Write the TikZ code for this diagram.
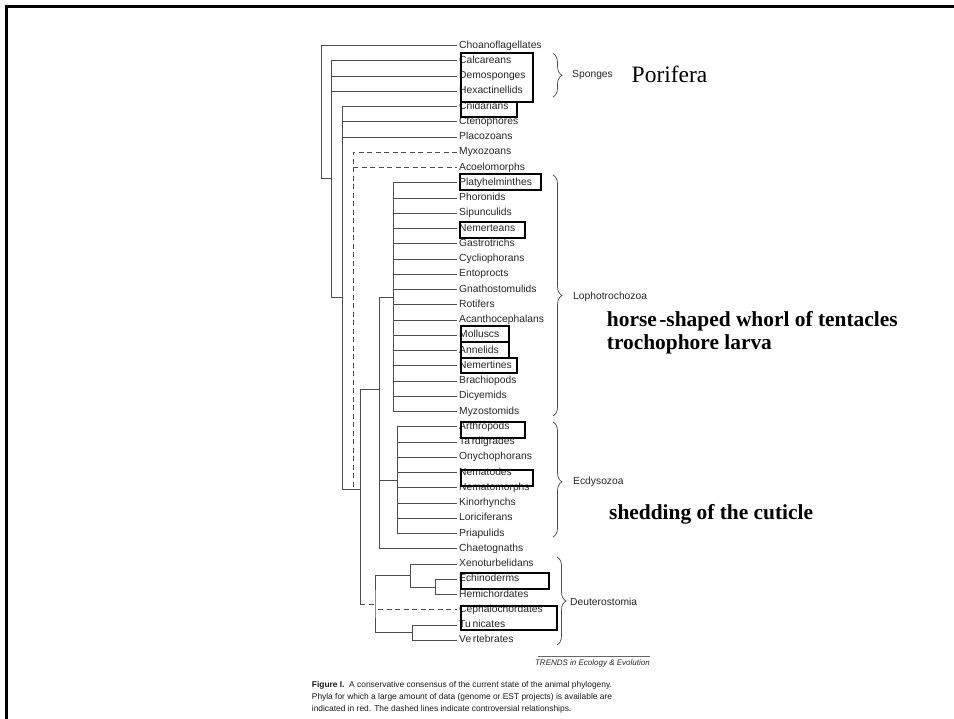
\documentclass[tikz,border=0pt]{standalone}
\usepackage{fontspec}
\setmainfont{Liberation Sans}
\newfontfamily\timesfont{Liberation Serif}
\usetikzlibrary{positioning}
\usetikzlibrary{decorations.pathreplacing}

\tikzset{
  taxon/.style={anchor=west,inner sep=2pt,text height=7.4pt,text depth=2.1pt,font=\fontsize{10.3}{12}\selectfont,text=black!85},
  branch/.style={draw=black!70,line width=0.8pt},
  doubtful/.style={branch,dash pattern=on 5pt off 3.5pt},
  hilite/.style={draw=black,line width=2.2pt},
  clade/.style={draw=black!70,line width=0.7pt,decorate,decoration={brace,amplitude=9pt,aspect=0.5}},
  cladename/.style={anchor=west,inner sep=0pt,font=\fontsize{10.3}{12}\selectfont,text=black!85},
  trait/.style={anchor=base west,inner sep=0pt,font=\timesfont\bfseries\fontsize{21.4}{25}\selectfont},
  captext/.style={anchor=base west,inner sep=0pt,font=\fontsize{8.4}{12}\selectfont,text=black!90}
}

\begin{document}
\begin{tikzpicture}[x=1pt,y=-1pt]
\useasboundingbox (0,0) rectangle (954,719);
\draw[line width=2.2pt] (6.5,719) -- (6.5,6.5) -- (954,6.5);

% taxa
\node[taxon] (choano) at (457,45.5) {Choanoflagellates};
\node[taxon] (calca) at (457,60.75) {Calcareans};
\node[taxon] (demo) at (457,76) {Demosponges};
\node[taxon] (hexa) at (457,91.25) {Hexactinellids};
\node[taxon] (cnid) at (457,106.5) {Cnidarians};
\node[taxon] (cteno) at (457,121.75) {Ctenophores};
\node[taxon] (placo) at (457,137) {Placozoans};
\node[taxon] (myxo) at (457,152.25) {Myxozoans};
\node[taxon] (acoel) at (457,167.5) {Acoelomorphs};
\node[taxon] (platy) at (457,182.75) {Platyhelminthes};
\node[taxon] (phoro) at (457,198) {Phoronids};
\node[taxon] (sipun) at (457,213.25) {Sipunculids};
\node[taxon] (nemer) at (457,228.5) {Nemerteans};
\node[taxon] (gastro) at (457,243.75) {Gastrotrichs};
\node[taxon] (cyclio) at (457,259) {Cycliophorans};
\node[taxon] (ento) at (457,274.25) {Entoprocts};
\node[taxon] (gnatho) at (457,289.5) {Gnathostomulids};
\node[taxon] (roti) at (457,304.75) {Rotifers};
\node[taxon] (acanth) at (457,320) {Acanthocephalans};
\node[taxon] (mollu) at (457,335.25) {Molluscs};
\node[taxon] (anne) at (457,350.5) {Annelids};
\node[taxon] (nemtin) at (457,365.75) {Nemertines};
\node[taxon] (brachio) at (457,381) {Brachiopods};
\node[taxon] (dicy) at (457,396.25) {Dicyemids};
\node[taxon] (myzo) at (457,411.5) {Myzostomids};
\node[taxon] (arthro) at (457,426.75) {Arthropods};
\node[taxon] (tardi) at (457,442) {Ta\,rdigrades};
\node[taxon] (onycho) at (457,457.25) {Onychophorans};
\node[taxon] (nemato) at (457,472.5) {Nematodes};
\node[taxon] (nemmor) at (457,487.75) {Nematomorphs};
\node[taxon] (kino) at (457,503) {Kinorhynchs};
\node[taxon] (lorici) at (457,518.25) {Loriciferans};
\node[taxon] (priap) at (457,533.5) {Priapulids};
\node[taxon] (chaet) at (457,548.75) {Chaetognaths};
\node[taxon] (xeno) at (457,564) {Xenoturbelidans};
\node[taxon] (echi) at (457,579.25) {Echinoderms};
\node[taxon] (hemi) at (457,594.5) {Hemichordates};
\node[taxon] (cephalo) at (457,609.75) {Cephalochordates};
\node[taxon] (tuni) at (457,625) {Tu\,nicates};
\node[taxon] (verte) at (457,640.25) {Ve\,rtebrates};

% inner nodes of the tree
\coordinate (n0) at (321,178);
\coordinate (n1) at (331,297);
\coordinate (n2) at (342,489);
\coordinate (n2d) at (353,489);
\coordinate (n3) at (360,604);
\coordinate (bil) at (379,389);
\coordinate (lopho) at (393,297);
\coordinate (ecdy) at (397,480);
\coordinate (deut) at (375,604);
\coordinate (amb) at (410,575);
\coordinate (echh) at (435,587);
\coordinate (chor) at (412,632);
\coordinate (ceph) at (378,609.75);

% branches
\draw[branch] (choano.west) -| (n0) -- (n0 -| n1);
\draw[branch] (calca.west) -| (n1) -- (n1 -| n2);
\draw[branch] (demo.west -| n1) -- (demo.west);
\draw[branch] (hexa.west -| n1) -- (hexa.west);
\draw[branch] (cnid.west) -| (n2) -- (n2 -| n3);
\draw[branch] (cteno.west -| n2) -- (cteno.west);
\draw[branch] (placo.west -| n2) -- (placo.west);
\draw[doubtful] (myxo.west) -| (n2d);
\draw[doubtful] (acoel.west -| n2d) -- (acoel.west);
\draw[branch] (n3) |- (bil);
\draw[doubtful] (n3) -- (deut);
\draw[branch] (lopho) -- (lopho -| bil) -- (bil |- chaet.west) -- (chaet.west);
\draw[branch] (ecdy -| bil) -- (ecdy);

\draw[branch] (platy.west) -| (lopho |- myzo.west) -- (myzo.west);
\draw[branch] (phoro.west -| lopho) -- (phoro.west);
\draw[branch] (sipun.west -| lopho) -- (sipun.west);
\draw[branch] (nemer.west -| lopho) -- (nemer.west);
\draw[branch] (gastro.west -| lopho) -- (gastro.west);
\draw[branch] (cyclio.west -| lopho) -- (cyclio.west);
\draw[branch] (ento.west -| lopho) -- (ento.west);
\draw[branch] (gnatho.west -| lopho) -- (gnatho.west);
\draw[branch] (roti.west -| lopho) -- (roti.west);
\draw[branch] (acanth.west -| lopho) -- (acanth.west);
\draw[branch] (mollu.west -| lopho) -- (mollu.west);
\draw[branch] (anne.west -| lopho) -- (anne.west);
\draw[branch] (nemtin.west -| lopho) -- (nemtin.west);
\draw[branch] (brachio.west -| lopho) -- (brachio.west);
\draw[branch] (dicy.west -| lopho) -- (dicy.west);

\draw[branch] (arthro.west) -| (ecdy |- priap.west) -- (priap.west);
\draw[branch] (tardi.west -| ecdy) -- (tardi.west);
\draw[branch] (onycho.west -| ecdy) -- (onycho.west);
\draw[branch] (nemato.west -| ecdy) -- (nemato.west);
\draw[branch] (nemmor.west -| ecdy) -- (nemmor.west);
\draw[branch] (kino.west -| ecdy) -- (kino.west);
\draw[branch] (lorici.west -| ecdy) -- (lorici.west);

\draw[branch] (amb) -| (deut) |- (chor);
\draw[branch] (xeno.west) -| (amb |- echh) -- (echh);
\draw[branch] (echi.west) -| (echh |- hemi.west) -- (hemi.west);
\draw[branch] (tuni.west) -| (chor |- verte.west) -- (verte.west);
\draw[doubtful] (ceph) -- (cephalo.west);

% boxes round the taxa with data
\draw[hilite] (460.7,53.3) rectangle (533,101.7);
\draw[hilite] (460.7,101.7) rectangle (516.7,117.3);
\draw[hilite] (460,174) rectangle (540.7,190);
\draw[hilite] (460,221.7) rectangle (525,238.3);
\draw[hilite] (460.7,326) rectangle (509,342.3);
\draw[hilite] (460.7,342.3) rectangle (509,357.7);
\draw[hilite] (460.7,357.7) rectangle (516.7,373.3);
\draw[hilite] (460.7,421.7) rectangle (525,437.7);
\draw[hilite] (460.7,470) rectangle (533.3,485.7);
\draw[hilite] (460.7,573.3) rectangle (549.3,589.3);
\draw[hilite] (460.7,606) rectangle (557.3,630);

% clades
\draw[clade] (553,53.5) -- (553,97);
\node[cladename] (sponges) at (572,75) {Sponges};
\node[anchor=base west,inner sep=0pt,font=\timesfont\fontsize{23.5}{28}\selectfont] (porifera) at (631.5,82.5) {Porifera};

\draw[clade] (553,175) -- (553,416);
\node[cladename] (lophoname) at (573,296.7) {Lophotrochozoa};
\node[trait] (tentacles) at (606.7,326.7) {horse\kern2.5pt-shaped whorl of tentacles};
\node[trait] (larva) at (606.7,350) {trochophore larva};

\draw[clade,decoration={aspect=0.52}] (553,422) -- (553,537);
\node[cladename] (ecdyname) at (573,481.7) {Ecdysozoa};
\node[trait] (cuticle) at (609,519) {shedding of the cuticle};

\draw[clade] (557,557) -- (557,645);
\node[cladename] (deutname) at (570,601.7) {Deuterostomia};

% source and caption
\draw[black!60,line width=0.6pt] (538,656) -- (650,656);
\node[anchor=base east,inner sep=0pt,font=\itshape\fontsize{8}{10}\selectfont,text=black!85] (trends) at (650,665.5) {TRENDS in Ecology \& Evolution};
\node[captext] (cap1) at (311.7,687) {\textbf{Figure I.}\ \ A conservative consensus of the current state of the animal phylogeny.};
\node[captext] (cap2) at (311.7,699) {Phyla for which a large amount of data (genome or EST projects) is available are};
\node[captext] (cap3) at (311.7,711) {indicated in red. The dashed lines indicate controversial relationships.};

\end{tikzpicture}
\end{document}
